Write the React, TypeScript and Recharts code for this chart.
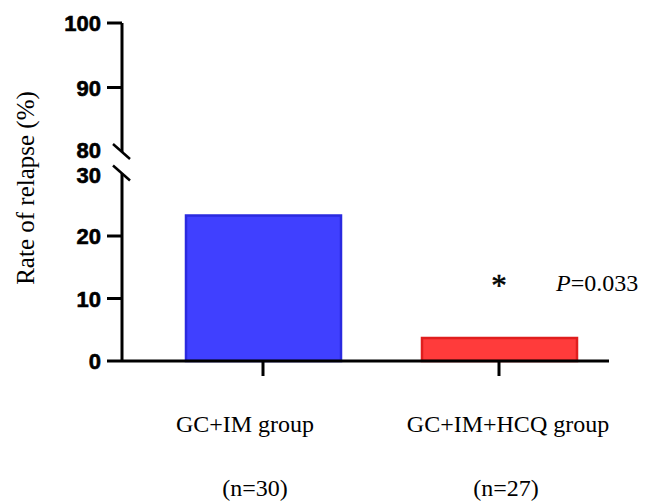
import React from "react";
import { BarChart, Bar, XAxis, YAxis, Cell, ReferenceDot } from "recharts";

const groups = ["GC+IM group", "GC+IM+HCQ group"];
const sampleSizes = ["(n=30)", "(n=27)"];
const relapseRates = [23.3, 3.7];
const barFills = ["#4040FF", "#FF3B3B"];
const barStrokes = ["#2A2AE0", "#E01E1E"];
const lowerTicks = [0, 10, 20, 30];
const upperTicks = [80, 90, 100];
const pValueText = "0.033";

const data = groups.map((g, i) => ({ group: g, n: sampleSizes[i], rate: relapseRates[i] }));

const TICK_SIZE = 15;
const TICK_MARGIN = 6;
const W = 646;
const H = 502;
const SERIF = "'Liberation Serif', 'Times New Roman', Times, 'DejaVu Serif', serif";
const SANS = "'Liberation Sans', Arial, Helvetica, sans-serif";
const nameNudge = [-18, 9];
const sizeNudge = [-8, 7];

const makeYTick = (breakValue: number, labelShift: number) => (props: any) => {
  const { x, y, payload } = props;
  const ax = x + TICK_SIZE + TICK_MARGIN;
  const isBreak = payload.value === breakValue;
  return (
    <g>
      {isBreak ? (
        <line x1={ax - 9} y1={y - 8} x2={ax + 8} y2={y + 7} stroke="#000" strokeWidth={2.5} />
      ) : (
        <line x1={ax - TICK_SIZE} y1={y} x2={ax} y2={y} stroke="#000" strokeWidth={3} />
      )}
      <text
        x={x}
        y={y + 8 + (isBreak ? labelShift : 0)}
        textAnchor="end"
        style={{ fontFamily: SANS, fontWeight: 700, fontSize: 22 }}
        fill="#000"
        stroke="#000"
        strokeWidth={0.6}
      >
        {payload.value}
      </text>
    </g>
  );
};

const XTick = (props: any) => {
  const { x, y, payload, index } = props;
  return (
    <g>
      <text
        x={x + nameNudge[index]}
        y={y + 56}
        textAnchor="middle"
        style={{ fontFamily: SERIF, fontSize: 24 }}
        fill="#000"
      >
        {payload.value}
      </text>
      <text
        x={x + sizeNudge[index]}
        y={y + 120}
        textAnchor="middle"
        style={{ fontFamily: SERIF, fontSize: 24 }}
        fill="#000"
      >
        {sampleSizes[index]}
      </text>
    </g>
  );
};

const SigLabel = (props: any) => {
  const vb = props.viewBox || {};
  const cx = vb.x + (vb.width || 0) / 2;
  const cy = vb.y + (vb.height || 0) / 2;
  return (
    <g>
      <text
        x={cx}
        y={cy + 13}
        textAnchor="middle"
        style={{ fontFamily: SERIF, fontSize: 31 }}
        fill="#000"
        stroke="#000"
        strokeWidth={0.5}
      >
        *
      </text>
      <text
        x={cx + 57}
        y={cy + 8}
        textAnchor="start"
        style={{ fontFamily: SERIF, fontSize: 24 }}
        fill="#000"
      >
        <tspan style={{ fontStyle: "italic" }}>P</tspan>={pValueText}
      </text>
    </g>
  );
};

const YLabel = () => (
  <text
    x={25}
    y={188}
    transform="rotate(-90 25 188)"
    textAnchor="middle"
    dominantBaseline="central"
    style={{ fontFamily: SERIF, fontSize: 25 }}
    fill="#000"
  >
    Rate of relapse (%)
  </text>
);

export default function App() {
  return (
    <div style={{ position: "absolute", left: 0, top: 0, width: W, height: H, background: "#fff" }}>
      <div style={{ position: "absolute", left: 0, top: 0 }}>
        <BarChart width={W} height={H} data={data} margin={{ top: 23, right: 37, bottom: 350, left: 0 }}>
          <XAxis dataKey="group" hide />
          <YAxis
            type="number"
            domain={[80, 100]}
            ticks={upperTicks}
            width={122}
            tickSize={TICK_SIZE}
            tickMargin={TICK_MARGIN}
            tickLine={false}
            axisLine={{ stroke: "#000", strokeWidth: 3 }}
            tick={makeYTick(80, -2)}
            allowDataOverflow
            interval={0}
          />
        </BarChart>
      </div>
      <div style={{ position: "absolute", left: 0, top: 0 }}>
        <BarChart
          width={W}
          height={H}
          data={data}
          margin={{ top: 173.5, right: 37, bottom: 0, left: 0 }}
        >
          <XAxis
            dataKey="group"
            height={141}
            padding={{ left: 23, right: -8 }}
            tickSize={TICK_SIZE}
            tickMargin={0}
            axisLine={{ stroke: "#000", strokeWidth: 3 }}
            tickLine={{ stroke: "#000", strokeWidth: 3 }}
            tick={XTick}
            interval={0}
          />
          <YAxis
            type="number"
            domain={[0, 30]}
            ticks={lowerTicks}
            width={122}
            tickSize={TICK_SIZE}
            tickMargin={TICK_MARGIN}
            tickLine={false}
            axisLine={{ stroke: "#000", strokeWidth: 3 }}
            tick={makeYTick(30, 1)}
            interval={0}
          />
          <Bar dataKey="rate" barSize={155} strokeWidth={2.5} isAnimationActive={false}>
            {data.map((d, i) => (
              <Cell key={d.group} fill={barFills[i]} stroke={barStrokes[i]} />
            ))}
          </Bar>
          <ReferenceDot
            x={groups[1]}
            y={12.5}
            r={0}
            fill="none"
            stroke="none"
            label={<SigLabel />}
          />
        </BarChart>
      </div>
      <svg width={W} height={H} style={{ position: "absolute", left: 0, top: 0, pointerEvents: "none" }}>
        <YLabel />
      </svg>
    </div>
  );
}
